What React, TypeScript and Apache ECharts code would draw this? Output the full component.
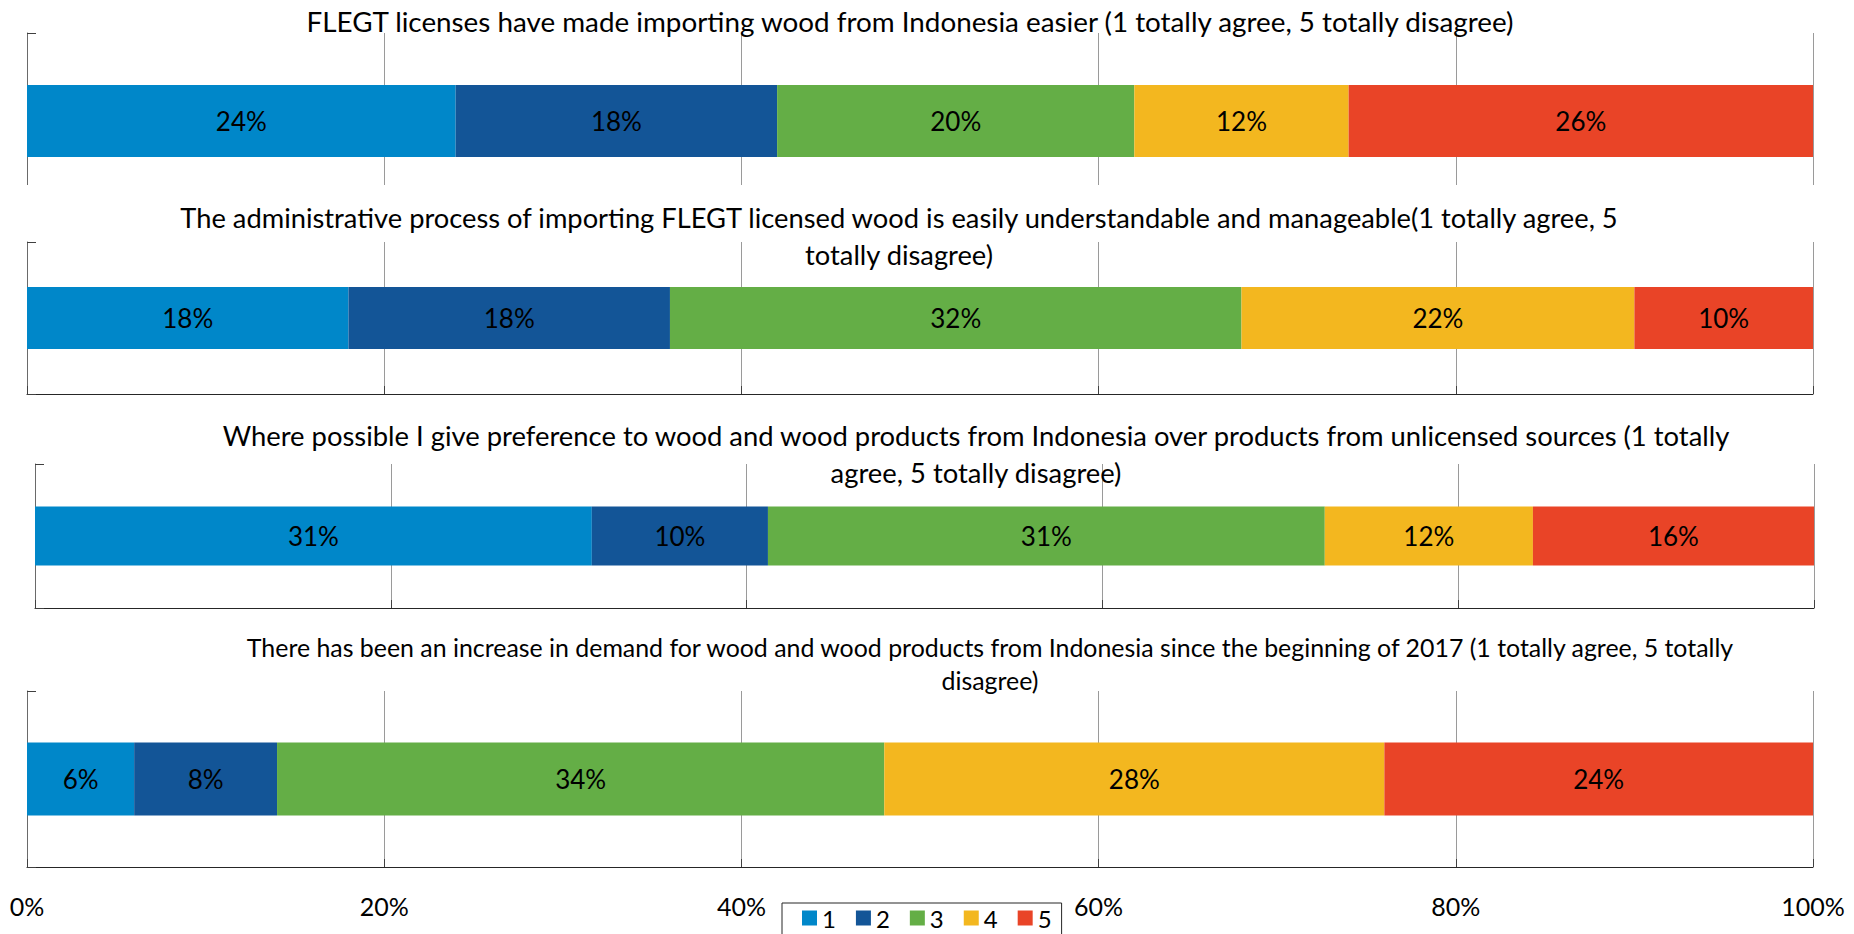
import React, { useEffect, useRef } from "react";
import * as echarts from "echarts";

const answerLevels = ["1", "2", "3", "4", "5"];
const levelColors = ["#0087C9", "#135597", "#64AE46", "#F3B71F", "#E94427"];

const questions = [
  "FLEGT licenses have made importing wood from Indonesia easier (1 totally agree, 5 totally disagree)",
  "The administrative process of importing FLEGT licensed wood is easily understandable and manageable(1 totally agree, 5\ntotally disagree)",
  "Where possible I give preference to wood and wood products from Indonesia over products from unlicensed sources (1 totally\nagree, 5 totally disagree)",
  "There has been an increase in demand for wood and wood products from Indonesia since the beginning of 2017 (1 totally agree, 5 totally\ndisagree)",
];

const q1Shares = [24, 18, 20, 12, 26];
const q2Shares = [18, 18, 32, 22, 10];
const q3Shares = [31.3, 9.9, 31.3, 11.7, 15.8];
const q4Shares = [6, 8, 34, 28, 24];
const allShares = [q1Shares, q2Shares, q3Shares, q4Shares];

const xTicks = [0, 20, 40, 60, 80, 100];

const FONT = "Lato, 'Open Sans', sans-serif";
const W = 1854;
const H = 934;

const layout = [
  { left: 27, right: 41, top: 33, bottom: H - 209, barWidth: 72, tx: 910, ty: 21, lh: 36, fs: 27.8, axisLine: false },
  { left: 27, right: 41, top: 242, bottom: H - 394, barWidth: 62, tx: 899, ty: 236, lh: 36.5, fs: 27.3, axisLine: true },
  { left: 35, right: 40, top: 464, bottom: H - 608, barWidth: 59, tx: 976, ty: 453.5, lh: 37, fs: 27.4, axisLine: true },
  { left: 27, right: 41, top: 691, bottom: H - 867, barWidth: 73, tx: 990, ty: 663, lh: 33, fs: 24.9, axisLine: true },
];

export default function App() {
  const ref = useRef<HTMLDivElement>(null);
  useEffect(() => {
    if (!ref.current) return;
    const chart = echarts.init(ref.current, null, { renderer: "svg" });

    const grids = layout.map((p) => ({ left: p.left, right: p.right, top: p.top, bottom: p.bottom }));
    const xAxes = layout.map((p, i) => ({
      type: "value",
      gridIndex: i,
      min: xTicks[0],
      max: xTicks[xTicks.length - 1],
      interval: xTicks[1] - xTicks[0],
      axisLine: { show: p.axisLine, lineStyle: { color: "#262626", width: 1 } },
      axisTick: { show: p.axisLine, inside: true, length: 8, lineStyle: { color: "#404040" } },
      splitLine: { show: true, lineStyle: { color: "#9a9a9a", width: 1 } },
      axisLabel: {
        show: i === 3,
        formatter: (v: number) => v + "%",
        color: "#000",
        fontFamily: FONT,
        fontSize: 25,
        margin: 26,
      },
    }));
    const yAxes = layout.map((p, i) => ({
      type: "category",
      gridIndex: i,
      data: [""],
      axisLine: { show: true, lineStyle: { color: "#6a6a6a", width: 1 } },
      axisTick: { show: true, inside: true, length: 9, lineStyle: { color: "#404040" } },
      axisLabel: { show: false },
      splitLine: { show: false },
    }));

    const series: any[] = [];
    allShares.forEach((shares, qi) => {
      shares.forEach((v, li) => {
        series.push({
          type: "bar",
          name: answerLevels[li],
          xAxisIndex: qi,
          yAxisIndex: qi,
          stack: "q" + qi,
          barWidth: layout[qi].barWidth,
          data: [v],
          itemStyle: { color: levelColors[li] },
          label: {
            show: true,
            position: "inside",
            formatter: (p: any) => Math.round(p.value) + "%",
            color: "#000",
            fontFamily: FONT,
            fontSize: 26,
          },
        });
      });
    });

    const graphic: any[] = [
      { type: "rect", shape: { x: 0, y: 185, width: W, height: 26 }, style: { fill: "#fff" }, z: 100 },
    ];
    layout.forEach((p, i) => {
      graphic.push({
        type: "text",
        x: p.tx,
        y: p.ty,
        z: 110,
        style: {
          text: questions[i],
          fill: "#000",
          font: `${p.fs}px ${FONT}`,
          textAlign: "center",
          textVerticalAlign: "middle",
          lineHeight: p.lh,
        },
      });
    });

    chart.setOption({
      animation: false,
      backgroundColor: "#fff",
      grid: grids,
      xAxis: xAxes,
      yAxis: yAxes,
      series,
      graphic,
      legend: {
        data: answerLevels,
        left: 782,
        top: 903,
        orient: "horizontal",
        itemWidth: 15,
        itemHeight: 15,
        itemGap: 20,
        padding: [3, 10, 6, 20],
        borderColor: "#262626",
        borderWidth: 1,
        icon: "rect",
        textStyle: { color: "#000", fontFamily: FONT, fontSize: 24, lineHeight: 20 },
      },
    });
    return () => chart.dispose();
  }, []);
  return <div ref={ref} style={{ position: "fixed", left: 0, top: 0, width: W, height: H }} />;
}
